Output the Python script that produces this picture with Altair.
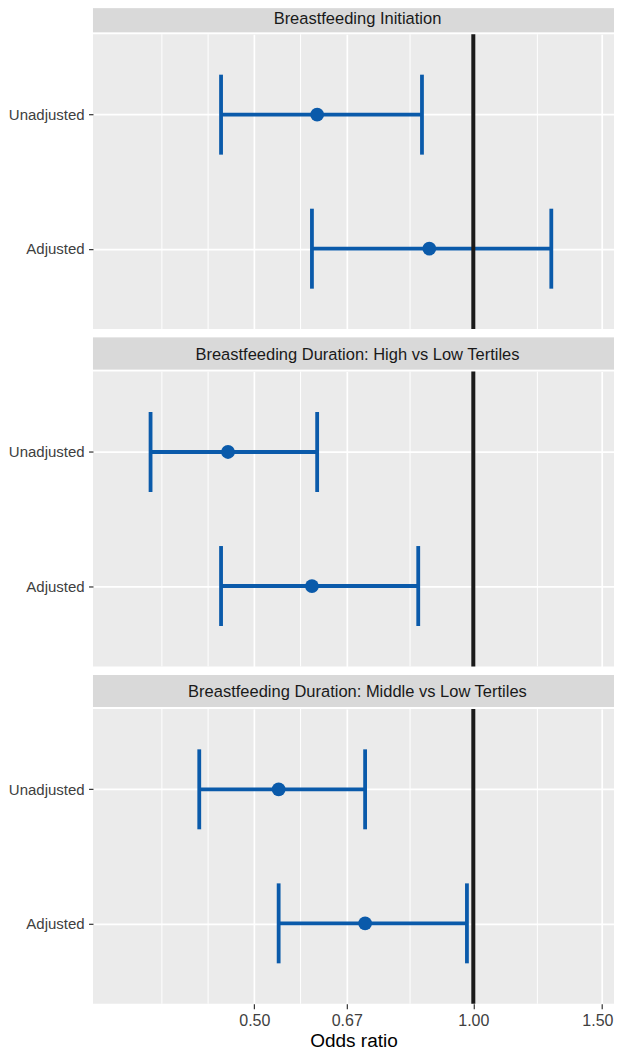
import altair as alt
import pandas as pd

# ---- data ----
outcomes = [
    "Breastfeeding Initiation",
    "Breastfeeding Duration: High vs Low Tertiles",
    "Breastfeeding Duration: Middle vs Low Tertiles",
]
models = ["Unadjusted", "Adjusted"]
row_outcome = [0, 0, 1, 1, 2, 2]
row_model = ["Unadjusted", "Adjusted", "Unadjusted", "Adjusted", "Unadjusted", "Adjusted"]
estimate = [0.61, 0.87, 0.46, 0.60, 0.54, 0.71]
lower = [0.45, 0.60, 0.36, 0.45, 0.42, 0.54]
upper = [0.85, 1.28, 0.61, 0.84, 0.71, 0.98]
major_breaks = [0.50, 0.67, 1.00, 1.50]
reference_line = [1.0]

# minor grid (log-space midpoints between breaks, extended one step below)
ext = major_breaks[0] ** 2 / major_breaks[1]
bks = [ext] + major_breaks
minor_breaks = [(bks[i] * bks[i + 1]) ** 0.5 for i in range(len(bks) - 1)] + [ext]

df = pd.DataFrame({
    "outcome": [outcomes[i] for i in row_outcome],
    "model": row_model,
    "est": estimate,
    "lo": lower,
    "hi": upper,
})

FONT = "Liberation Sans"
BLUE = "#0A5AAA"
W = 521.3
PANEL_H = 295
STRIP_H = [24, 32, 32]
STRIP_BASE = [15.3, 22, 22]
TEXT_X = (W + 8) / 2

x_scale = alt.Scale(type="log", domain=[0.30, 1.561], nice=False)
y_scale = alt.Scale(type="point", domain=models, padding=0.6)

y_axis = alt.Axis(
    title=None, domain=False, grid=True, gridColor="white", gridWidth=1.7,
    labelFont=FONT, labelFontSize=15, labelColor="#404040", labelPadding=4.4,
    tickSize=4.4, tickColor="#333333", tickWidth=1.2,
)


def x_axis(bottom):
    if bottom:
        return alt.Axis(
            values=major_breaks, format=".2f", title="Odds ratio",
            domain=False, grid=True, gridColor="white", gridWidth=1.7,
            labelFont=FONT, labelFontSize=16, labelColor="#404040", labelPadding=4,
            labelFlush=False,
            labelOffset={"condition": {"test": "datum.value >= 1.5", "value": -4}, "value": 0},
            tickSize=5, tickColor="#333333", tickWidth=1.2,
            titleFont=FONT, titleFontSize=19, titleFontWeight="normal",
            titleColor="#000000", titlePadding=3,
        )
    return alt.Axis(
        values=major_breaks, title=None, labels=False, ticks=False,
        domain=False, grid=True, gridColor="white", gridWidth=1.7,
    )


def panel(i, bottom):
    d = df[df["outcome"] == outcomes[i]]
    xa = x_axis(bottom)
    minor = alt.Chart(pd.DataFrame({"m": minor_breaks})).mark_rule(
        color="white", strokeWidth=1.0
    ).encode(x=alt.X("m:Q", scale=x_scale, axis=xa))
    base = alt.Chart(d)
    bars = base.mark_rule(color=BLUE, strokeWidth=3.8).encode(
        x=alt.X("lo:Q", scale=x_scale, axis=xa),
        x2="hi:Q",
        y=alt.Y("model:N", scale=y_scale, axis=y_axis, sort=models),
    )
    caps = base.transform_fold(["lo", "hi"]).mark_tick(
        color=BLUE, thickness=3.8, size=80, opacity=1
    ).encode(
        x=alt.X("value:Q", scale=x_scale, axis=xa),
        y=alt.Y("model:N", scale=y_scale, axis=y_axis, sort=models),
    )
    pts = base.mark_circle(color=BLUE, size=190, opacity=1).encode(
        x=alt.X("est:Q", scale=x_scale, axis=xa),
        y=alt.Y("model:N", scale=y_scale, axis=y_axis, sort=models),
    )
    vline = alt.Chart(pd.DataFrame({"r": reference_line})).mark_rule(
        color="#1A1A1A", strokeWidth=4
    ).encode(x=alt.X("r:Q", scale=x_scale, axis=xa))
    return alt.layer(minor, bars, caps, pts, vline).properties(width=W, height=PANEL_H)


def strip(i):
    sd = pd.DataFrame({"title": [outcomes[i]]})
    h = STRIP_H[i]
    bg = alt.Chart(sd).mark_rect(color="#D9D9D9").encode(
        x=alt.value(0), x2=alt.value(W), y=alt.value(0), y2=alt.value(h)
    )
    tx = alt.Chart(sd).mark_text(
        font=FONT, fontSize=16.5, color="#1A1A1A", baseline="alphabetic", align="center"
    ).encode(x=alt.value(TEXT_X), y=alt.value(STRIP_BASE[i]), text="title:N")
    return alt.layer(bg, tx).properties(width=W, height=h)


groups = [
    alt.vconcat(strip(i), panel(i, i == len(outcomes) - 1), spacing=0)
    for i in range(len(outcomes))
]

chart = (
    alt.vconcat(*groups, spacing=6.5)
    .properties(padding={"top": 0, "left": 0, "right": 0, "bottom": 0})
    .configure_view(stroke=None, fill="#EBEBEB")
)

chart.save("out.html", embed_options={"renderer": "svg", "actions": False})
